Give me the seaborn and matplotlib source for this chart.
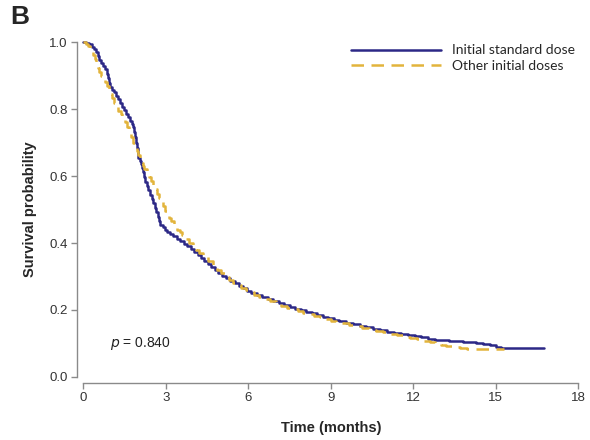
import matplotlib
matplotlib.use("Agg")
import matplotlib.pyplot as plt
import seaborn as sns
import pandas as pd

# Kaplan-Meier step points (time in months, survival probability)
standard_time = [0, 0.1, 0.2, 0.3, 0.38, 0.45, 0.52, 0.58, 0.65, 0.72, 0.8, 0.86, 0.9,
                 0.94, 0.98, 1.04, 1.1, 1.17, 1.25, 1.32, 1.4, 1.47, 1.55, 1.62, 1.7,
                 1.77, 1.82, 1.85, 1.88, 1.91, 1.94, 1.97, 2.0, 2.04, 2.08, 2.12, 2.16,
                 2.2, 2.25, 2.3, 2.36, 2.42, 2.48, 2.54, 2.6, 2.65, 2.7, 2.75, 2.8,
                 2.88, 2.96, 3.05, 3.15, 3.27, 3.4, 3.52, 3.65, 3.77, 3.9, 4.02, 4.15,
                 4.28, 4.4, 4.52, 4.65, 4.77, 4.9, 5.05, 5.2, 5.35, 5.5, 5.65, 5.8,
                 5.95, 6.1, 6.3, 6.5, 6.7, 6.9, 7.1, 7.3, 7.5, 7.7, 7.9, 8.1, 8.3, 8.5,
                 8.7, 8.9, 9.1, 9.3, 9.55, 9.8, 10.05, 10.3, 10.55, 10.8, 11.05, 11.3,
                 11.55, 11.8, 12.05, 12.3, 12.55, 12.8, 13.05, 13.3, 13.55, 13.8,
                 14.05, 14.3, 14.55, 14.8, 15.0, 15.2, 16.75]
standard_surv = [1.0, 0.997, 0.993, 0.986, 0.978, 0.97, 0.958, 0.947, 0.937, 0.928,
                 0.918, 0.905, 0.892, 0.878, 0.866, 0.858, 0.85, 0.84, 0.83, 0.818,
                 0.806, 0.796, 0.786, 0.776, 0.765, 0.755, 0.745, 0.73, 0.715, 0.70,
                 0.685, 0.67, 0.655, 0.645, 0.635, 0.625, 0.612, 0.598, 0.583, 0.57,
                 0.557, 0.543, 0.53, 0.518, 0.505, 0.492, 0.478, 0.465, 0.455, 0.447,
                 0.44, 0.434, 0.428, 0.42, 0.413, 0.405, 0.398, 0.39, 0.383, 0.374,
                 0.365, 0.355, 0.345, 0.336, 0.327, 0.318, 0.31, 0.302, 0.295, 0.287,
                 0.28, 0.272, 0.265, 0.257, 0.25, 0.244, 0.238, 0.232, 0.227, 0.22,
                 0.214, 0.209, 0.204, 0.2, 0.195, 0.19, 0.184, 0.18, 0.175, 0.171,
                 0.167, 0.162, 0.157, 0.153, 0.148, 0.144, 0.139, 0.135, 0.131, 0.128,
                 0.125, 0.121, 0.118, 0.114, 0.111, 0.109, 0.107, 0.106, 0.104, 0.103,
                 0.101, 0.098, 0.095, 0.091, 0.088, 0.088]

other_time = [0, 0.08, 0.15, 0.22, 0.3, 0.36, 0.42, 0.47, 0.52, 0.57, 0.63, 0.7, 0.78,
              0.85, 0.92, 0.98, 1.05, 1.12, 1.2, 1.27, 1.35, 1.42, 1.5, 1.57, 1.65,
              1.72, 1.8, 1.87, 1.95, 2.0, 2.05, 2.1, 2.15, 2.22, 2.3, 2.37, 2.45, 2.52,
              2.6, 2.67, 2.75, 2.82, 2.9, 2.97, 3.05, 3.12, 3.2, 3.3, 3.4, 3.5, 3.6,
              3.72, 3.85, 3.97, 4.1, 4.22, 4.35, 4.52, 4.7, 4.85, 5.0, 5.15, 5.3, 5.45,
              5.6, 5.75, 5.9, 6.05, 6.2, 6.4, 6.6, 6.8, 7.0, 7.2, 7.4, 7.6, 7.8, 8.0,
              8.2, 8.4, 8.6, 8.8, 9.0, 9.2, 9.4, 9.65, 9.9, 10.15, 10.4, 10.65, 10.9,
              11.15, 11.4, 11.65, 11.9, 12.15, 12.4, 12.6, 12.8, 13.0, 13.2, 13.45,
              13.7, 13.95, 14.2, 15.3]
other_surv = [1.0, 0.995, 0.988, 0.98, 0.97, 0.96, 0.948, 0.935, 0.922, 0.91, 0.9,
              0.89, 0.88, 0.87, 0.858, 0.845, 0.832, 0.818, 0.806, 0.795, 0.785, 0.773,
              0.76, 0.745, 0.73, 0.715, 0.70, 0.688, 0.675, 0.662, 0.65, 0.64, 0.63,
              0.62, 0.61, 0.597, 0.585, 0.572, 0.56, 0.547, 0.535, 0.522, 0.51, 0.497,
              0.485, 0.475, 0.465, 0.452, 0.44, 0.432, 0.425, 0.412, 0.40, 0.39, 0.38,
              0.37, 0.36, 0.345, 0.33, 0.32, 0.31, 0.30, 0.29, 0.282, 0.275, 0.267,
              0.26, 0.253, 0.246, 0.239, 0.232, 0.226, 0.22, 0.213, 0.207, 0.202,
              0.197, 0.192, 0.188, 0.183, 0.178, 0.173, 0.168, 0.164, 0.16, 0.155,
              0.151, 0.146, 0.141, 0.137, 0.133, 0.128, 0.124, 0.12, 0.116, 0.112,
              0.107, 0.103, 0.10, 0.096, 0.092, 0.089, 0.087, 0.085, 0.083, 0.083]

group_labels = ["Initial standard dose", "Other initial doses"]
x_ticks = [0, 3, 6, 9, 12, 15, 18]
y_ticks = [0.0, 0.2, 0.4, 0.6, 0.8, 1.0]
p_text = "0.840"

sns.set_style("ticks")
plt.rcParams["font.family"] = ["Liberation Sans", "DejaVu Sans"]

fig = plt.figure(figsize=(5.9, 4.4), dpi=100)
ax = fig.add_axes([0.1415, 0.1432, 0.9797 - 0.1415, 0.9045 - 0.1432])

navy = "#2c2886"
gold = "#e2b43c"

df_std = pd.DataFrame({"time": standard_time, "surv": standard_surv})
df_oth = pd.DataFrame({"time": other_time, "surv": other_surv})

sns.lineplot(data=df_std, x="time", y="surv", ax=ax, color=navy, lw=1.8,
             drawstyle="steps-post", clip_on=False, label=group_labels[0])
sns.lineplot(data=df_oth, x="time", y="surv", ax=ax, color=gold, lw=1.8,
             drawstyle="steps-post", clip_on=False, label=group_labels[1])
ax.lines[1].set_dashes((2.4, 1.3))

ax.set_xlim(0, 18)
ax.set_ylim(0, 1)
ax.set_xticks(x_ticks)
ax.set_yticks(y_ticks)
ax.set_xticklabels([str(t) for t in x_ticks])
ax.set_yticklabels([f"{v:.1f}" for v in y_ticks])

for side in ["top", "right"]:
    ax.spines[side].set_visible(False)
for side in ["left", "bottom"]:
    ax.spines[side].set_color("#8a8a8a")
    ax.spines[side].set_linewidth(1.0)
ax.spines["left"].set_position(("outward", 4.5))
ax.spines["bottom"].set_position(("outward", 4))
ax.tick_params(axis="both", colors="#8a8a8a", length=4, width=1.0,
               labelsize=9.5, labelcolor="#333333", pad=3)

ax.set_xlabel("Time (months)", fontsize=10.5, fontweight="bold", labelpad=12)
ax.set_ylabel("Survival probability", fontsize=10.5, fontweight="bold", labelpad=9)

ax.text(0.96, 0.10, r"$\it{p}$ = " + p_text, fontsize=10, color="#222222",
        va="center", ha="left")

handles, labels = ax.get_legend_handles_labels()
handles[1].set_dashes((5, 3))
leg = ax.legend(handles, labels, loc="upper right", bbox_to_anchor=(1.02, 1.03),
                frameon=False, handlelength=6.5, handletextpad=0.8,
                labelspacing=0.25, prop={"family": ["Lato", "DejaVu Sans"], "size": 10})

fig.text(0.018, 0.988, "B", fontsize=19, fontweight="bold", va="top", ha="left")

fig.savefig("out.png", dpi=100)
